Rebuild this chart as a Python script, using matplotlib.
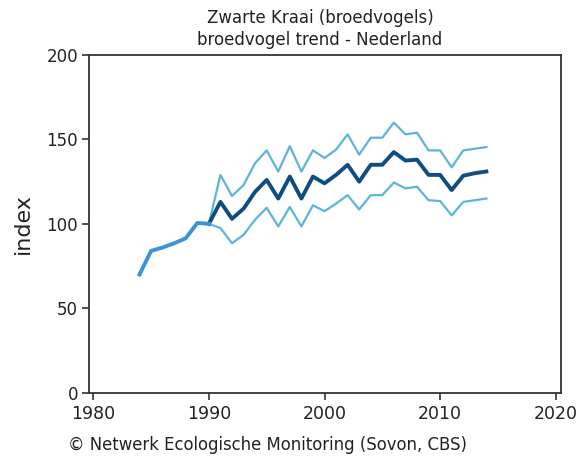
import matplotlib
matplotlib.use("Agg")
import matplotlib.pyplot as plt

# early series (before base year)
early_years = [1984, 1985, 1986, 1987, 1988, 1989, 1990]
early_index = [70, 84, 86, 88.5, 91.5, 100.5, 100]

# trend with confidence bounds from base year 1990
years = list(range(1990, 2015))
index = [100, 113, 103, 109, 119, 126, 115, 128, 115, 128, 124, 129, 135,
         125, 135, 135, 142.5, 137.5, 138, 129, 129, 120, 128.5, 130, 131]
upper = [100, 129, 116.5, 123, 136, 143.5, 131, 146, 131, 143.5, 139, 144, 153,
         141, 151, 151, 160, 153, 154, 143.5, 143.5, 133.5, 143.5, 144.5, 145.5]
lower = [100, 97.5, 88.5, 93.5, 102.5, 109.5, 98.5, 110, 98.5, 111, 107.5, 112, 117,
         108.5, 117, 117, 124.5, 121, 122, 114, 113.5, 105, 113, 114, 115]

xticks = [1980, 1990, 2000, 2010, 2020]
yticks = [0, 50, 100, 150, 200]

W, H = 581, 459
fig = plt.figure(figsize=(W / 100, H / 100), dpi=100)
ax = fig.add_axes([89 / W, 1 - 392.7 / H, (560.7 - 89) / W, (392.7 - 55) / H])

ax.plot(years, upper, color="#5db5d6", lw=1.6)
ax.plot(years, lower, color="#5db5d6", lw=1.6)
ax.plot(years, index, color="#0e4c82", lw=2.8)
ax.plot(early_years, early_index, color="#3d93d9", lw=2.8)

ax.set_xlim(1979.63, 2020.43)
ax.set_ylim(0, 200)
ax.set_xticks(xticks)
ax.set_yticks(yticks)
ax.tick_params(axis="x", labelsize=12.5)
ax.tick_params(axis="y", labelsize=12, pad=3)
ax.tick_params(length=5, width=1.2, color="#333333", labelcolor="#222222")
for s in ax.spines.values():
    s.set_color("#333333")
    s.set_linewidth(1.3)
ax.set_ylabel("index", fontsize=16, color="#222222")
ax.yaxis.set_label_coords((33 - 89) / (560.7 - 89), 0.5)

fig.text(320 / W, 1 - 18 / H, "Zwarte Kraai (broedvogels)", ha="center", va="center",
         fontsize=12, color="#222222")
fig.text(320 / W, 1 - 40 / H, "broedvogel trend - Nederland", ha="center", va="center",
         fontsize=12, color="#222222")
fig.text(68 / W, 1 - 445 / H, "© Netwerk Ecologische Monitoring (Sovon, CBS)", ha="left",
         va="center", fontsize=11.9, color="#222222")

fig.savefig("out.png", dpi=100)
